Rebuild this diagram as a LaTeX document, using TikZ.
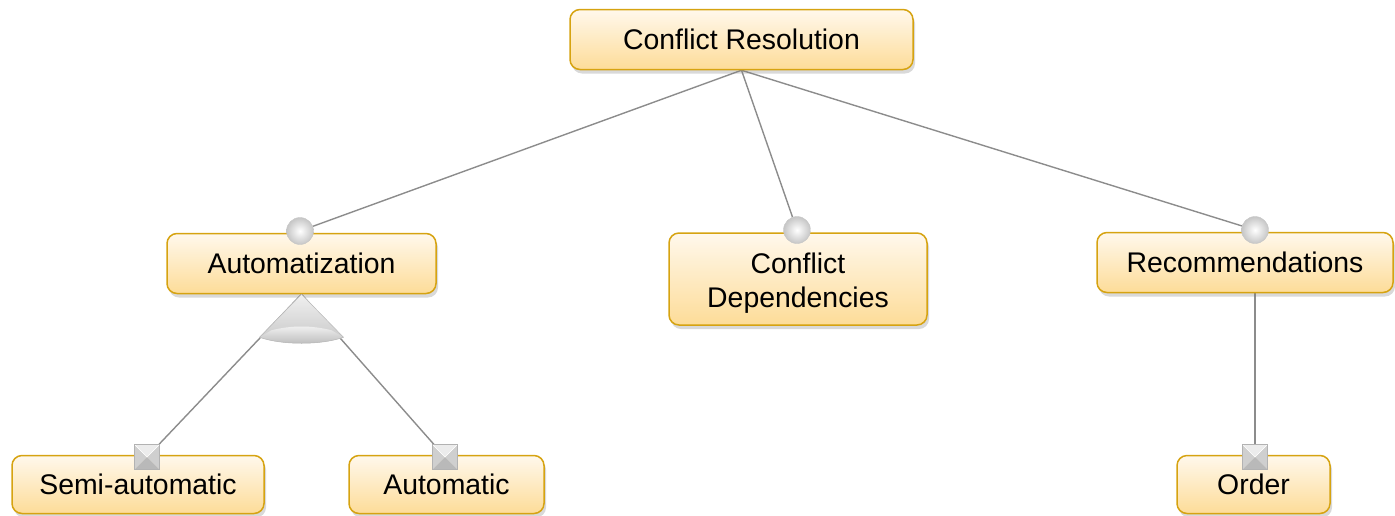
\documentclass[tikz,border=0pt]{standalone}
\usepackage{fontspec}
\setmainfont{Liberation Sans}
\usetikzlibrary{shadows,backgrounds}

\definecolor{boxtop}{HTML}{FFF8EC}
\definecolor{boxbottom}{HTML}{FDDC98}
\definecolor{boxborder}{HTML}{D6A311}
\definecolor{linkgray}{HTML}{8C8C8C}

\begin{document}
\begin{tikzpicture}[x=1pt,y=-1pt,
  box/.style={draw=boxborder, line width=1.5pt, rounded corners=10pt,
    top color=boxtop, bottom color=boxbottom,
    drop shadow={shadow xshift=2pt, shadow yshift=-4pt, opacity=0.3},
    font=\fontsize{28.4}{34.5}\selectfont, align=center, inner sep=0pt},
  ball/.style={circle, minimum size=27pt, inner sep=0pt,
    inner color=white, outer color=gray!45, draw=gray!45, line width=0.4pt},
  sq/.style={rectangle, minimum size=25pt, inner sep=0pt},
  link/.style={draw=linkgray, line width=1.4pt}
]
\useasboundingbox (0,0) rectangle (1395,515);

% feature boxes
\node[box, minimum width=343pt, minimum height=60pt] (CR) at (741.5,39.5) {Conflict Resolution};
\node[box, minimum width=269pt, minimum height=60pt] (A) at (301.5,263.5) {Automatization};
\node[box, minimum width=258pt, minimum height=92pt] (CD) at (798,279) {\rule{0pt}{29pt}Conflict\\Dependencies};
\node[box, minimum width=296pt, minimum height=60pt] (R) at (1245,262.5) {Recommendations};
\node[box, minimum width=252pt, minimum height=58pt] (S) at (138,484.5) {Semi-automatic};
\node[box, minimum width=195pt, minimum height=58pt] (AU) at (446.5,484.5) {Automatic};
\node[box, minimum width=153pt, minimum height=58pt] (O) at (1253.5,484.5) {Order};

% optional-feature markers
\node[ball] (cA) at (300,231) {};
\node[ball] (cD) at (797,230) {};
\node[ball] (cR) at (1255,230) {};

% mandatory-feature markers
\node[sq] (sS) at (147,457) {};
\node[sq] (sAU) at (445,457) {};
\node[sq] (sO) at (1255,457) {};
\foreach \s in {sS,sAU,sO}{
  \fill[gray!38] (\s.north west) -- (\s.south west) -- (\s.center) -- cycle;
  \fill[gray!38] (\s.north east) -- (\s.south east) -- (\s.center) -- cycle;
  \fill[gray!55] (\s.south west) -- (\s.south east) -- (\s.center) -- cycle;
  \fill[gray!15] (\s.north west) -- (\s.north east) -- (\s.center) -- cycle;
  \draw[white, line width=0.5pt] (\s.north west) -- (\s.center) -- (\s.north east);
  \draw[gray!60, line width=0.6pt] (\s.north west) rectangle (\s.south east);
}

% alternative group (cone below Automatization)
\begin{scope}[shift={(A.south)}]
  \shade[top color=gray!12, bottom color=gray!45]
    (0,0) -- (-42,43) .. controls (-20,51) and (20,51) .. (42,43) -- cycle;
  \shade[top color=gray!10, bottom color=gray!55]
    (-30,36) .. controls (-10,31) and (10,31) .. (30,36)
    -- (42,43) .. controls (20,51) and (-20,51) .. (-42,43) -- cycle;
  \draw[gray!55, line width=0.5pt]
    (0,0) -- (-42,43) .. controls (-20,51) and (20,51) .. (42,43) -- cycle;
\end{scope}

% connectors
\begin{scope}[on background layer]
  \draw[link] (CR.south) -- (cA);
  \draw[link] (CR.south) -- (cD);
  \draw[link] (CR.south) -- (cR);
  \draw[link] (A.south) -- (sS);
  \draw[link] (A.south) -- (sAU);
  \draw[link] (cR |- R.south) -- (sO);
\end{scope}
\end{tikzpicture}
\end{document}
